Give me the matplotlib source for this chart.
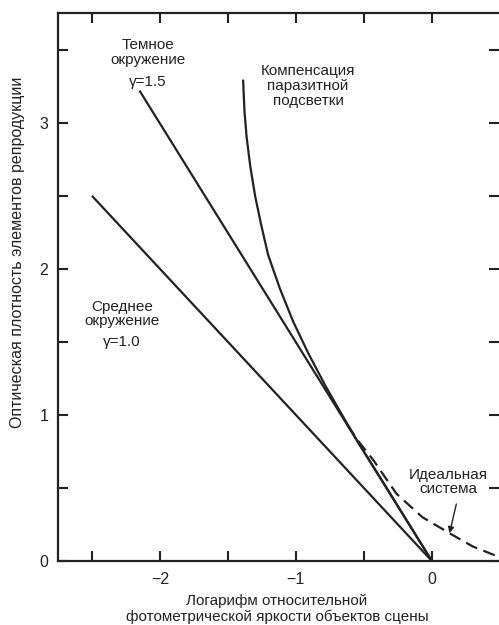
import matplotlib.pyplot as plt

plt.rcParams['font.family'] = ['Liberation Sans', 'DejaVu Sans']

# Lines (log relative luminance vs density)
avg_x = [-2.5, 0.0]
avg_y = [2.5, 0.0]

dark_x = [-2.15, 0.0]
dark_y = [3.22, 0.0]

comp_x = [-1.388, -1.378, -1.362, -1.335, -1.30, -1.255, -1.204, -1.118,
          -1.02, -0.905, -0.775, -0.635, -0.535, -0.40, 0.0]
comp_y = [3.295, 3.08, 2.9, 2.7, 2.5, 2.3, 2.095, 1.866,
          1.639, 1.415, 1.186, 0.959, 0.80, 0.60, 0.0]

ideal_x = [-0.62, -0.54, -0.43, -0.26, -0.07, 0.13, 0.30, 0.46, 0.49]
ideal_y = [0.93, 0.82, 0.69, 0.46, 0.30, 0.19, 0.10, 0.04, 0.03]

x_ticks = [-2.5, -2.0, -1.5, -1.0, -0.5, 0.0]
x_labels = ['', '\u22122', '', '\u22121', '', '0']
y_ticks = [0, 0.5, 1, 1.5, 2, 2.5, 3, 3.5]
y_labels = ['0', '', '1', '', '2', '', '3', '']

ink = '#222222'

fig = plt.figure(figsize=(4.99, 6.25), dpi=100)
ax = fig.add_axes([0.116, 0.1024, 0.883, 0.8766])

ax.plot(avg_x, avg_y, color=ink, lw=1.6, solid_capstyle='butt')
ax.plot(dark_x, dark_y, color=ink, lw=1.6, solid_capstyle='butt')
ax.plot(comp_x, comp_y, color=ink, lw=1.6, solid_capstyle='butt',
        solid_joinstyle='round')
ax.plot(ideal_x, ideal_y, color=ink, lw=1.6, ls=(0, (5.5, 3)))

ax.set_xlim(-2.75, 0.49)
ax.set_ylim(0, 3.75)
ax.set_xticks(x_ticks)
ax.set_xticklabels(x_labels)
ax.set_yticks(y_ticks)
ax.set_yticklabels(y_labels)
ax.tick_params(direction='in', top=True, right=True, length=7, width=1.5,
               colors=ink, labelsize=11.5, pad=8)
ax.tick_params(axis='y', pad=7)
ax.spines['right'].set_visible(False)
for s in ['left', 'bottom', 'top']:
    ax.spines[s].set_linewidth(1.6)
    ax.spines[s].set_color(ink)

tkw = dict(ha='center', va='center', fontsize=11, color=ink, linespacing=1.07)
ax.text(-2.09, 3.48, 'Темное\nокружение', **tkw)
ax.text(-2.09, 3.28, '\u03b3=1.5', **tkw)
ax.text(-0.91, 3.25, 'Компенсация\nпаразитной\nподсветки', **tkw)
ax.text(-2.28, 1.69, 'Среднее\nокружение', **tkw)
ax.text(-2.28, 1.50, '\u03b3=1.0', **tkw)
ax.text(0.12, 0.54, 'Идеальная\nсистема', **tkw)
ax.annotate('', xy=(0.13, 0.19), xytext=(0.18, 0.39),
            arrowprops=dict(arrowstyle='-|>', color=ink, lw=1.0,
                            mutation_scale=9, shrinkA=0, shrinkB=0))

fig.text(0.555, 0.0256, 'Логарифм относительной\nфотометрической яркости объектов сцены',
         ha='center', va='center', fontsize=11, color=ink, linespacing=1.15)
fig.text(0.036, 0.597, 'Оптическая плотность элементов репродукции',
         ha='center', va='center', rotation=90, fontsize=11.5, color=ink)

fig.savefig('out.png', dpi=100)
